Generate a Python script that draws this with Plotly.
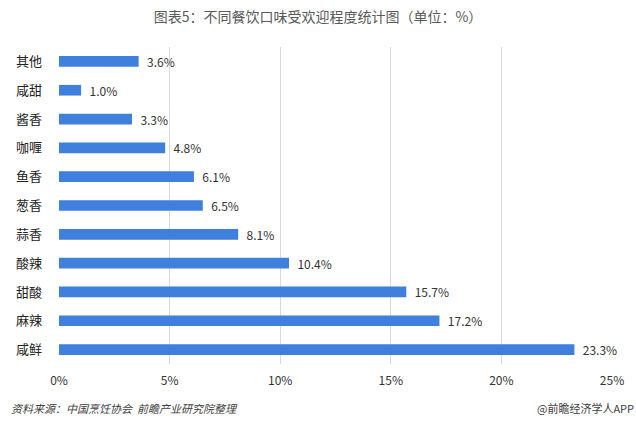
import plotly.graph_objects as go

categories = ["其他", "咸甜", "酱香", "咖喱", "鱼香", "葱香", "蒜香", "酸辣", "甜酸", "麻辣", "咸鲜"]
values = [3.6, 1.0, 3.3, 4.8, 6.1, 6.5, 8.1, 10.4, 15.7, 17.2, 23.3]
tick_vals = [0, 5, 10, 15, 20, 25]
tick_text = ["0%", "5%", "10%", "15%", "20%", "25%"]

FONT = "Noto Sans CJK SC"

fig = go.Figure(go.Bar(
    x=values, y=categories, orientation="h",
    marker=dict(color="#3f80dc", line=dict(width=0)),
    text=[f"  {v:.1f}%" for v in values], textposition="outside",
    constraintext="none",
    textfont=dict(size=12, color="#333333", family=FONT),
    cliponaxis=False,
))

fig.update_layout(
    width=636, height=438,
    margin=dict(l=59, r=24, t=47, b=74),
    paper_bgcolor="white", plot_bgcolor="white",
    bargap=0.63,
    showlegend=False,
    font=dict(family=FONT, color="#333333"),
    title=dict(text="图表5：不同餐饮口味受欢迎程度统计图（单位：%）",
               x=0.5, xanchor="center", y=0.962, yanchor="middle",
               font=dict(size=14, color="#595959", family=FONT)),
    xaxis=dict(range=[0, 25], tickvals=tick_vals, ticktext=tick_text,
               showgrid=True, gridcolor="#d9d9d9", gridwidth=1,
               zeroline=False, showline=False, ticks="",
               tickfont=dict(size=12, color="#333333"), ticklabelstandoff=8),
    yaxis=dict(autorange="reversed", showgrid=False, zeroline=False,
               showline=False, ticks="", tickfont=dict(size=13, color="#222222"),
               ticklabelstandoff=16),
)

fig.add_annotation(text="<i>资料来源：中国烹饪协会  前瞻产业研究院整理</i>",
                   xref="paper", yref="paper", x=-0.09, y=-0.14,
                   xanchor="left", yanchor="middle", showarrow=False,
                   font=dict(size=11, color="#404040", family=FONT))
fig.add_annotation(text="@前瞻经济学人APP",
                   xref="paper", yref="paper", x=1.043, y=-0.14,
                   xanchor="right", yanchor="middle", showarrow=False,
                   font=dict(size=11, color="#404040", family=FONT))

fig.write_html("out.html")
